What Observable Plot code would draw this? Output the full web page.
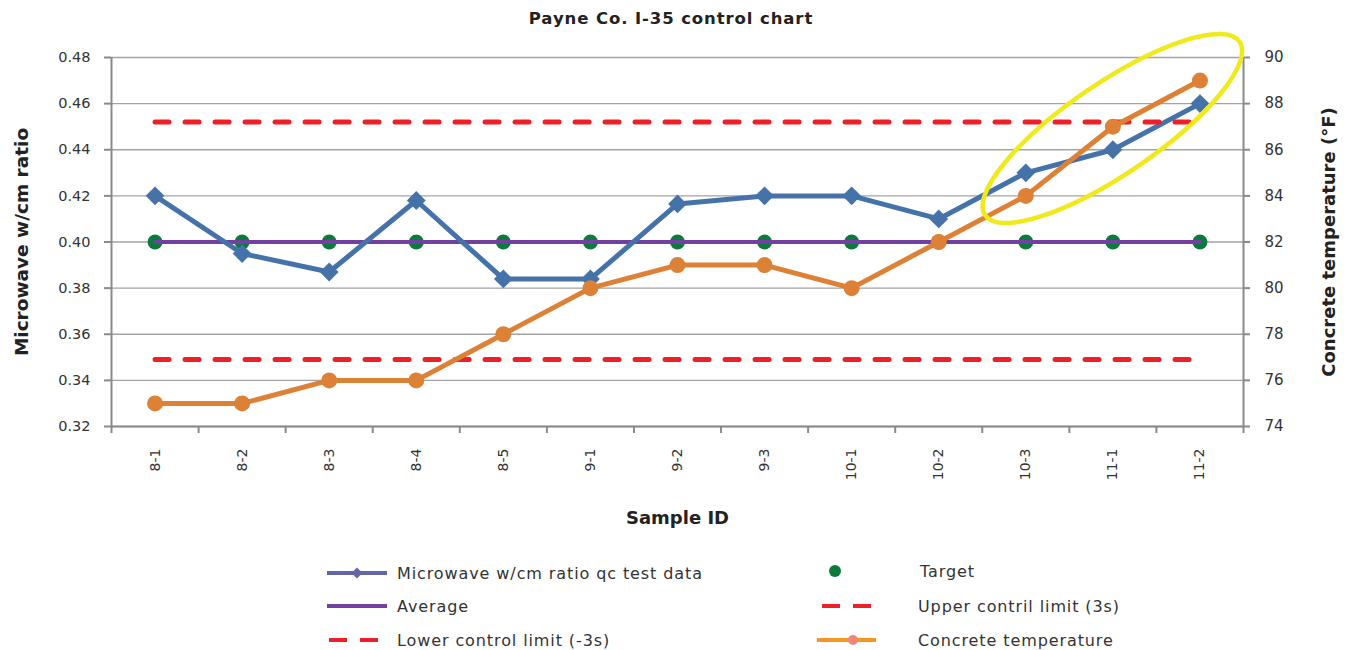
<!DOCTYPE html>
<html>
<head>
<meta charset="utf-8">
<script src="https://cdn.jsdelivr.net/npm/d3@7"></script>
<script src="https://cdn.jsdelivr.net/npm/@observablehq/plot@0.6"></script>
<style>
  body { margin: 0; background: #fff; font-family: "DejaVu Sans", sans-serif; }
  #wrap { position: relative; width: 1351px; height: 650px; overflow: hidden; }
  #title { position: absolute; left: 0; top: 9px; width: 1342px; text-align: center;
           font-weight: bold; font-size: 16.5px; letter-spacing: 0.9px; color: #222; z-index: 2; }
  #chart { position: absolute; left: 0; top: 0; }
  .leg { position: absolute; display: flex; align-items: center; font-size: 16px; letter-spacing: 0.9px; color: #333; height: 20px; white-space: nowrap; }
  .leg svg { display: block; }
</style>
</head>
<body>
<div id="wrap">
  <div id="title">Payne Co. I-35 control chart</div>
  <div id="chart"></div>
  <div id="legend"></div>
</div>
<script>
// ---------- data ----------
const categories = ["8-1","8-2","8-3","8-4","8-5","9-1","9-2","9-3","10-1","10-2","10-3","11-1","11-2"];
const wcmRatio   = [0.420,0.395,0.387,0.418,0.384,0.384,0.4165,0.420,0.420,0.410,0.430,0.440,0.460];
const targetVals = [0.40,0.40,0.40,0.40,0.40,0.40,0.40,0.40,0.40,0.40,0.40,0.40,0.40];
const averageVals= [0.40,0.40,0.40,0.40,0.40,0.40,0.40,0.40,0.40,0.40,0.40,0.40,0.40];
const uclVals    = [0.452,0.452,0.452,0.452,0.452,0.452,0.452,0.452,0.452,0.452,0.452,0.452,0.452];
const lclVals    = [0.349,0.349,0.349,0.349,0.349,0.349,0.349,0.349,0.349,0.349,0.349,0.349,0.349];
const temperature= [75,75,76,76,78,80,81,81,80,82,84,87,89];
const leftTicks  = [0.32,0.34,0.36,0.38,0.40,0.42,0.44,0.46,0.48];
const rightTicks = [74,76,78,80,82,84,86,88,90];
const highlight  = {category: "11-1", value: 0.449}; // yellow ellipse annotation centre

const legendItems = [
  "Microwave w/cm ratio qc test data", "Target", "Average",
  "Upper contril limit (3s)", "Lower control limit (-3s)", "Concrete temperature"
];

// ---------- derived table ----------
const yDomain = [leftTicks[0], leftTicks[leftTicks.length - 1]];
const tDomain = [rightTicks[0], rightTicks[rightTicks.length - 1]];
const tToY = d3.scaleLinear().domain(tDomain).range(yDomain);
const rows = categories.map((c, i) => ({
  cat: c, x: i + 0.5, wcm: wcmRatio[i], target: targetVals[i], avg: averageVals[i],
  ucl: uclVals[i], lcl: lclVals[i], temp: temperature[i], tempY: tToY(temperature[i])
}));
const centers = rows.map(d => d.x);
const bounds = d3.range(categories.length + 1);

const BLUE = "#4672aa", ORANGE = "#dd8136", PURPLE = "#7140a0", GREEN = "#0c7a3c", RED = "#ee1f26";
const GRID = "#a3a3a3", AXIS = "#8a8a8a", TXT = "#333";

const plot = Plot.plot({
  width: 1351, height: 540,
  marginTop: 57, marginBottom: 114, marginLeft: 111, marginRight: 108,
  style: { fontFamily: "DejaVu Sans, sans-serif", fontSize: "14px", color: TXT, background: "transparent", overflow: "visible" },
  x: { type: "linear", domain: [0, categories.length], axis: null },
  y: { domain: yDomain, axis: null },
  marks: [
    Plot.gridY(leftTicks, { stroke: GRID, strokeOpacity: 1, strokeWidth: 1.4 }),
    Plot.ruleX([0, categories.length], { stroke: AXIS, strokeWidth: 2 }),
    Plot.ruleY([yDomain[0]], { stroke: AXIS, strokeWidth: 2 }),
    Plot.axisX(bounds, { tickSize: 7, tickFormat: () => "", stroke: AXIS, strokeWidth: 2, label: null }),
    Plot.axisX(centers, { tickSize: 0, tickPadding: 22, tickRotate: -90, tickFormat: v => categories[Math.round(v - 0.5)], fill: TXT, fontSize: 14, label: null }),
    Plot.axisY(leftTicks, { anchor: "left", tickSize: 7, tickPadding: 14, tickFormat: d3.format(".2f"), stroke: AXIS, strokeWidth: 2, fill: TXT, fontSize: 14.5, label: null }),
    Plot.axisY(rightTicks.map(t => tToY(t)), { anchor: "right", tickSize: 6, tickPadding: 15, tickFormat: v => Math.round(tToY.invert(v)), stroke: AXIS, strokeWidth: 2, fill: TXT, fontSize: 15, label: null }),
    Plot.text(["Sample ID"], { frameAnchor: "bottom", dy: 97, fontWeight: "bold", fontSize: 18, fill: "#222", textAnchor: "middle" }),
    Plot.text(["Microwave w/cm ratio"], { frameAnchor: "left", dx: -89, rotate: -90, textAnchor: "middle", fontWeight: "bold", fontSize: 18.5, letterSpacing: "0.9px", fill: "#222" }),
    Plot.text(["Concrete temperature (°F)"], { frameAnchor: "right", dx: 86, rotate: -90, textAnchor: "middle", fontWeight: "bold", fontSize: 18, letterSpacing: "0.7px", fill: "#222" }),
    // series
    Plot.dot(rows, { x: "x", y: "target", r: 7.5, fill: GREEN }),
    Plot.line(rows, { x: "x", y: "avg", stroke: PURPLE, strokeWidth: 4 }),
    Plot.line(rows, { x: "x", y: "wcm", stroke: BLUE, strokeWidth: 5, strokeLinejoin: "round" }),
    Plot.dot(rows, { x: "x", y: "wcm", symbol: "square", r: 7.5, rotate: 45, fill: BLUE }),
    Plot.line(rows, { x: "x", y: "ucl", stroke: RED, strokeWidth: 5, strokeDasharray: "14,16", strokeLinecap: "round" }),
    Plot.line(rows, { x: "x", y: "lcl", stroke: RED, strokeWidth: 5, strokeDasharray: "14,16", strokeLinecap: "round" }),
    Plot.line(rows, { x: "x", y: "tempY", stroke: ORANGE, strokeWidth: 5, strokeLinejoin: "round" }),
    Plot.dot(rows, { x: "x", y: "tempY", r: 8, fill: ORANGE })
  ]
});

// annotation ellipse positioned through the plot's scales
const xs = plot.scale("x"), ys = plot.scale("y");
const cx = xs.apply(categories.indexOf(highlight.category) + 0.5);
const cy = ys.apply(highlight.value);
d3.select(plot).append("ellipse")
  .attr("cx", cx).attr("cy", cy).attr("rx", 154).attr("ry", 45.5)
  .attr("transform", `rotate(-34.3 ${cx} ${cy})`)
  .attr("fill", "none").attr("stroke", "#f0e91c").attr("stroke-width", 4.5);

document.getElementById("chart").appendChild(plot);

// ---------- legend ----------
const legend = d3.select("#legend");
function item(x, y, swatch, label) {
  const div = legend.append("div").attr("class", "leg").style("left", x + "px").style("top", (y - 10) + "px");
  const s = div.append("svg").attr("width", swatch.w).attr("height", 20);
  swatch.draw(s);
  div.append("span").style("margin-left", swatch.gap + "px").text(label);
}
item(327, 573, { w: 60, gap: 10, draw: s => {
  s.append("line").attr("x1", 0).attr("x2", 60).attr("y1", 10).attr("y2", 10).attr("stroke", "#6265a8").attr("stroke-width", 4);
  s.append("path").attr("d", d3.symbol(d3.symbolSquare, 60)()).attr("transform", "translate(30,10) rotate(45)").attr("fill", "#6265a8");
}}, legendItems[0]);
item(827, 571, { w: 16, gap: 77, draw: s => {
  s.append("circle").attr("cx", 8).attr("cy", 10).attr("r", 6).attr("fill", GREEN);
}}, legendItems[1]);
item(327, 606, { w: 60, gap: 10, draw: s => {
  s.append("line").attr("x1", 0).attr("x2", 60).attr("y1", 10).attr("y2", 10).attr("stroke", PURPLE).attr("stroke-width", 4);
}}, legendItems[2]);
item(820, 606, { w: 54, gap: 44, draw: s => {
  s.append("line").attr("x1", 2).attr("x2", 54).attr("y1", 10).attr("y2", 10).attr("stroke", RED).attr("stroke-width", 4).attr("stroke-dasharray", "18,13");
}}, legendItems[3]);
item(329, 640, { w: 52, gap: 16, draw: s => {
  s.append("line").attr("x1", 0).attr("x2", 52).attr("y1", 10).attr("y2", 10).attr("stroke", RED).attr("stroke-width", 4).attr("stroke-dasharray", "18,13");
}}, legendItems[4]);
item(817, 640, { w: 59, gap: 42, draw: s => {
  s.append("line").attr("x1", 0).attr("x2", 59).attr("y1", 10).attr("y2", 10).attr("stroke", "#f7961f").attr("stroke-width", 4);
  s.append("circle").attr("cx", 36).attr("cy", 10).attr("r", 5).attr("fill", "#f08877");
}}, legendItems[5]);
</script>
</body>
</html>
